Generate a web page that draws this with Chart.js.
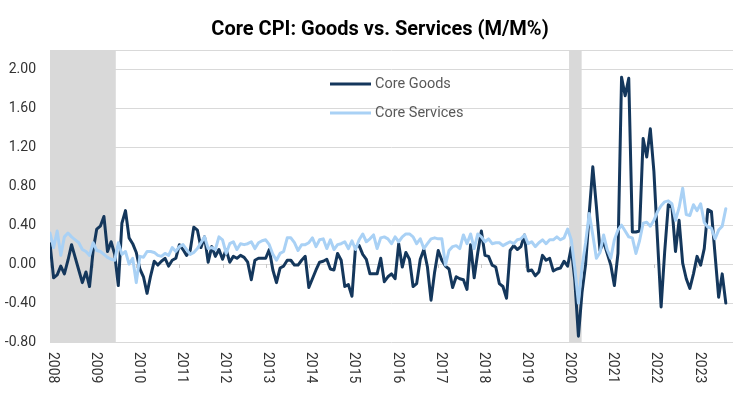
<!DOCTYPE html>
<html>
<head>
<meta charset="utf-8">
<title>Core CPI: Goods vs. Services (M/M%)</title>
<script src="https://cdn.jsdelivr.net/npm/chart.js@4.4.0/dist/chart.umd.min.js"></script>
<style>
  html, body { margin: 0; padding: 0; background: #fff; }
  #wrap { width: 738px; height: 395px; }
</style>
</head>
<body>
<div id="wrap"><canvas id="chart" width="738" height="395"></canvas></div>
<script>
'use strict';

// monthly M/M % change, Jan 2008 .. Sep 2023
const yearLabels = ['2008', '2009', '2010', '2011', '2012', '2013', '2014', '2015',
    '2016', '2017', '2018', '2019', '2020', '2021', '2022', '2023'];

const coreGoods = [
    0.21, -0.14, -0.11, -0.02, -0.10, 0.04, 0.20, 0.07, -0.06, -0.19, -0.08, -0.23,
    0.14, 0.36, 0.39, 0.49, 0.13, 0.23, 0.10, -0.22, 0.42, 0.55, 0.27, 0.21,
    0.12, -0.05, -0.13, -0.30, -0.12, 0.03, -0.01, 0.03, 0.06, -0.02, 0.04, 0.06,
    0.20, 0.15, 0.09, 0.14, 0.38, 0.35, 0.17, 0.28, 0.02, 0.18, 0.08, 0.15,
    0.05, 0.15, 0.02, 0.08, 0.06, 0.09, 0.07, 0.02, -0.16, 0.04, 0.06, 0.06,
    0.06, 0.15, -0.06, -0.19, -0.04, -0.02, 0.04, 0.04, -0.01, -0.01, 0.04, 0.08,
    -0.24, -0.15, -0.06, 0.02, 0.03, 0.05, -0.05, -0.06, 0.11, 0.04, -0.23, -0.21,
    -0.33, 0.18, 0.19, 0.10, 0.05, -0.10, -0.10, -0.10, 0.06, -0.18, -0.13, -0.10,
    -0.15, 0.21, -0.03, 0.12, 0.05, -0.23, -0.20, 0.05, 0.15, -0.03, -0.37, -0.08,
    0.14, 0.04, -0.02, -0.05, -0.24, -0.13, -0.15, -0.16, -0.26, 0.20, -0.14, 0.12,
    0.34, 0.09, 0.08, -0.01, -0.03, -0.20, -0.23, -0.35, 0.14, 0.19, 0.15, 0.18,
    0.30, -0.07, -0.06, -0.12, -0.08, 0.09, 0.04, 0.06, -0.07, -0.05, -0.04, 0.03,
    -0.02, 0.17, -0.17, -0.74, -0.29, 0.00, 0.52, 1.00, 0.59, 0.14, 0.23, 0.11,
    -0.01, -0.22, 0.11, 1.92, 1.73, 1.91, 0.33, 0.33, 0.34, 1.29, 1.10, 1.39,
    0.95, 0.25, -0.44, 0.13, 0.61, 0.59, 0.13, 0.45, 0.01, -0.15, -0.25, -0.10,
    0.08, -0.01, 0.16, 0.56, 0.54, 0.10, -0.34, -0.10, -0.40
];

const coreServices = [
    0.32, 0.17, 0.34, 0.09, 0.28, 0.32, 0.28, 0.25, 0.22, 0.15, 0.13, 0.09,
    0.22, 0.14, 0.13, 0.10, 0.07, 0.05, 0.04, 0.22, 0.10, 0.13, 0.00, 0.06,
    -0.19, 0.08, 0.07, 0.13, 0.13, 0.12, 0.09, 0.08, 0.11, 0.09, 0.17, 0.13,
    0.18, 0.20, 0.15, 0.10, 0.12, 0.16, 0.22, 0.28, 0.16, 0.17, 0.15, 0.28,
    0.25, 0.11, 0.21, 0.23, 0.15, 0.21, 0.20, 0.21, 0.23, 0.16, 0.22, 0.24,
    0.25, 0.20, 0.10, 0.04, 0.11, 0.13, 0.27, 0.27, 0.22, 0.14, 0.20, 0.20,
    0.22, 0.27, 0.18, 0.25, 0.26, 0.16, 0.25, 0.15, 0.20, 0.21, 0.23, 0.16,
    0.24, 0.15, 0.25, 0.31, 0.23, 0.26, 0.30, 0.16, 0.27, 0.28, 0.26, 0.21,
    0.28, 0.23, 0.28, 0.31, 0.31, 0.28, 0.21, 0.26, 0.16, 0.21, 0.26, 0.27,
    0.26, 0.26, -0.01, 0.14, 0.18, 0.19, 0.16, 0.30, 0.21, 0.31, 0.16, 0.31,
    0.28, 0.23, 0.26, 0.21, 0.22, 0.22, 0.19, 0.21, 0.23, 0.21, 0.25, 0.26,
    0.30, 0.21, 0.23, 0.18, 0.22, 0.25, 0.21, 0.25, 0.25, 0.28, 0.25, 0.27,
    0.36, 0.25, -0.04, -0.40, -0.03, 0.22, 0.52, 0.30, 0.06, 0.12, 0.30, 0.15,
    0.06, 0.25, 0.35, 0.40, 0.34, 0.28, 0.27, 0.11, 0.24, 0.42, 0.43, 0.39,
    0.45, 0.54, 0.60, 0.64, 0.65, 0.62, 0.45, 0.58, 0.78, 0.51, 0.50, 0.61,
    0.55, 0.62, 0.43, 0.38, 0.37, 0.26, 0.35, 0.39, 0.57
];

const yTicks = [-0.8, -0.4, 0, 0.4, 0.8, 1.2, 1.6, 2.0];

// recession shading, in months since Jan 2008
const recessionStart = [0, 144.4];
const recessionEnd = [18.3, 147.9];

const GOODS_COLOR = '#14375c';
const SERVICES_COLOR = '#a9d1f5';
const FONT = 'Roboto, "Liberation Sans", sans-serif';

const decorPlugin = {
    id: 'decor',
    beforeDatasetsDraw(chart) {
        const { ctx, chartArea: area, scales: { x, y } } = chart;
        ctx.save();
        // top edge of plot
        ctx.strokeStyle = '#d9d9d9';
        ctx.lineWidth = 1;
        ctx.beginPath();
        ctx.moveTo(area.left, area.top + 0.5);
        ctx.lineTo(area.right, area.top + 0.5);
        ctx.stroke();
        // recession bars
        ctx.fillStyle = '#d9d9d9';
        recessionStart.forEach((s, k) => {
            const x0 = x.getPixelForValue(s);
            const x1 = x.getPixelForValue(recessionEnd[k]);
            ctx.fillRect(x0, area.top, x1 - x0, area.bottom - area.top);
        });
        // small year ticks on the zero line
        const y0 = Math.round(y.getPixelForValue(0));
        ctx.strokeStyle = '#c8c8c8';
        ctx.beginPath();
        yearLabels.forEach((lab, k) => {
            const px = Math.round(x.getPixelForValue(k * 12)) + 0.5;
            ctx.moveTo(px, y0);
            ctx.lineTo(px, y0 + 4);
        });
        ctx.stroke();
        ctx.restore();
    },
    afterDraw(chart) {
        const { ctx, chartArea: area, scales: { x } } = chart;
        ctx.save();

        // title
        ctx.fillStyle = '#000';
        ctx.font = 'bold 20px ' + FONT;
        ctx.textAlign = 'center';
        ctx.textBaseline = 'alphabetic';
        ctx.fillText('Core CPI: Goods vs. Services (M/M%)', 380, 35);

        // year labels, rotated to read top-down
        ctx.font = '14px ' + FONT;
        ctx.fillStyle = '#333';
        ctx.textAlign = 'left';
        ctx.textBaseline = 'middle';
        yearLabels.forEach((lab, k) => {
            const px = x.getPixelForValue(k * 12);
            ctx.save();
            ctx.translate(px + 2, area.bottom + 10);
            ctx.rotate(Math.PI / 2);
            ctx.fillText(lab, 0, 0);
            ctx.restore();
        });

        // legend
        const items = [['Core Goods', GOODS_COLOR, 84], ['Core Services', SERVICES_COLOR, 113]];
        ctx.font = '14.5px ' + FONT;
        ctx.textBaseline = 'middle';
        items.forEach(([name, color, ly]) => {
            ctx.strokeStyle = color;
            ctx.lineWidth = 3;
            ctx.beginPath();
            ctx.moveTo(330, ly);
            ctx.lineTo(371, ly);
            ctx.stroke();
            ctx.fillStyle = '#595959';
            ctx.fillText(name, 375, ly);
        });
        ctx.restore();
    }
};

function renderChart() {
    const lineStyle = {
        borderWidth: 3,
        pointRadius: 0,
        tension: 0,
        borderJoinStyle: 'round',
        borderCapStyle: 'round'
    };

    const config = {
        type: 'line',
        data: {
            datasets: [Object.assign({
                label: 'Core Goods',
                data: coreGoods.map((v, i) => ({ x: i, y: v })),
                borderColor: GOODS_COLOR,
                order: 1
            }, lineStyle), Object.assign({
                label: 'Core Services',
                data: coreServices.map((v, i) => ({ x: i, y: v })),
                borderColor: SERVICES_COLOR,
                order: 0
            }, lineStyle)]
        },
        options: {
            responsive: false,
            animation: false,
            devicePixelRatio: 1,
            layout: { padding: { top: 50, bottom: 53, left: 0, right: 5 } },
            plugins: {
                legend: { display: false },
                tooltip: { enabled: false },
                title: { display: false }
            },
            scales: {
                x: {
                    type: 'linear',
                    display: false,
                    min: 0,
                    max: 190
                },
                y: {
                    min: -0.8,
                    max: 2.2,
                    afterBuildTicks: scale => { scale.ticks = yTicks.map(v => ({ value: v })); },
                    afterFit: scale => { scale.width = 50; },
                    border: { display: false },
                    grid: { color: '#d9d9d9', drawTicks: false },
                    ticks: {
                        padding: 14,
                        color: '#333',
                        font: { family: FONT, size: 14 },
                        callback: v => v.toFixed(2)
                    }
                }
            }
        },
        plugins: [decorPlugin]
    };

    const canvasElem = document.getElementById('chart');
    if (canvasElem) {
        new Chart(canvasElem, config);
    }
}

document.addEventListener('DOMContentLoaded', renderChart);
</script>
</body>
</html>
